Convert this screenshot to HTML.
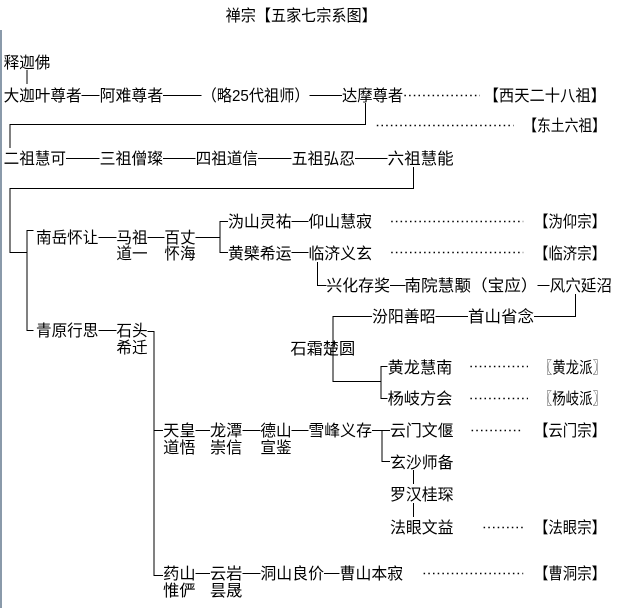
<!DOCTYPE html>
<html><head><meta charset="utf-8"><style>
html,body{margin:0;padding:0;background:#fff;width:623px;height:608px;overflow:hidden}
svg{display:block}
text{font-family:"Liberation Sans","Noto Sans CJK SC",sans-serif;font-size:16px;fill:#000}
.l{stroke:#000;stroke-width:1;fill:none;vector-effect:non-scaling-stroke;shape-rendering:crispEdges}
.d{stroke:#000;stroke-width:1.5;stroke-dasharray:1.5 3.2;fill:none;vector-effect:non-scaling-stroke}
</style></head><body>
<svg width="623" height="608" xmlns="http://www.w3.org/2000/svg">
<rect x="0" y="30" width="2" height="578" fill="#8a9aaa"/>
<g transform="scale(1.2,1)">
<text x="188" y="21" textLength="126" lengthAdjust="spacingAndGlyphs">禅宗【五家七宗系图】</text>

<text x="3" y="68" textLength="39" lengthAdjust="spacingAndGlyphs">释迦佛</text>
<path class="l" d="M22.5 70V84"/>
<text x="3" y="101" textLength="65" lengthAdjust="spacingAndGlyphs">大迦叶尊者</text>
<path class="l" d="M68 95.5H83"/>
<text x="83" y="101" textLength="53" lengthAdjust="spacingAndGlyphs">阿难尊者</text>
<path class="l" d="M136 95.5H168"/>
<text x="168" y="101" textLength="90" lengthAdjust="spacingAndGlyphs">（略25代祖师）</text>
<path class="l" d="M258 95.5H285"/>
<text x="285" y="101" textLength="51" lengthAdjust="spacingAndGlyphs">达摩尊者</text>
<path class="d" d="M337 95.5H400"/>
<text x="403" y="101" textLength="102" lengthAdjust="spacingAndGlyphs">【西天二十八祖】</text>
<path class="l" d="M304.5 103V124.5H8.5V148"/>
<path class="d" d="M314 125.5H428"/>
<text x="436" y="131" textLength="69" lengthAdjust="spacingAndGlyphs">【东土六祖】</text>

<text x="3" y="164" textLength="52" lengthAdjust="spacingAndGlyphs">二祖慧可</text>
<path class="l" d="M55 158.5H83"/>
<text x="83" y="164" textLength="53" lengthAdjust="spacingAndGlyphs">三祖僧璨</text>
<path class="l" d="M136 158.5H163"/>
<text x="163" y="164" textLength="52" lengthAdjust="spacingAndGlyphs">四祖道信</text>
<path class="l" d="M215 158.5H243"/>
<text x="243" y="164" textLength="53" lengthAdjust="spacingAndGlyphs">五祖弘忍</text>
<path class="l" d="M296 158.5H323"/>
<text x="323" y="164" textLength="55" lengthAdjust="spacingAndGlyphs">六祖慧能</text>
<path class="l" d="M344.5 167V188.5H8.5V252.5H22.5"/>
<path class="l" d="M28 230.5H22.5V330.5H28"/>

<text x="30" y="243" textLength="52" lengthAdjust="spacingAndGlyphs">南岳怀让</text>
<path class="l" d="M82 237.5H97"/>
<text x="97" y="243" textLength="26" lengthAdjust="spacingAndGlyphs">马祖</text>
<text x="97" y="259" textLength="26" lengthAdjust="spacingAndGlyphs">道一</text>
<path class="l" d="M123 237.5H137"/>
<text x="137" y="243" textLength="26" lengthAdjust="spacingAndGlyphs">百丈</text>
<text x="137" y="259" textLength="26" lengthAdjust="spacingAndGlyphs">怀海</text>
<path class="l" d="M163 237.5H183.5"/>
<path class="l" d="M190 221.5H183.5V252.5H190"/>
<text x="190" y="227" textLength="53" lengthAdjust="spacingAndGlyphs">沩山灵祐</text>
<path class="l" d="M243 221.5H257"/>
<text x="257" y="227" textLength="53" lengthAdjust="spacingAndGlyphs">仰山慧寂</text>
<path class="d" d="M326 221.5H436"/>
<text x="445" y="227" textLength="60" lengthAdjust="spacingAndGlyphs">【沩仰宗】</text>
<text x="190" y="259" textLength="53" lengthAdjust="spacingAndGlyphs">黄檗希运</text>
<path class="l" d="M243 252.5H257"/>
<text x="257" y="259" textLength="53" lengthAdjust="spacingAndGlyphs">临济义玄</text>
<path class="d" d="M326 252.5H436"/>
<text x="445" y="259" textLength="60" lengthAdjust="spacingAndGlyphs">【临济宗】</text>
<path class="l" d="M264.5 262V285.5H272"/>
<text x="272" y="291" textLength="53" lengthAdjust="spacingAndGlyphs">兴化存奖</text>
<path class="l" d="M325 285.5H338"/>
<text x="337" y="291" textLength="111" lengthAdjust="spacingAndGlyphs">南院慧颙（宝应）</text>
<path class="l" d="M448 285.5H458"/>
<text x="458" y="291" textLength="52" lengthAdjust="spacingAndGlyphs">风穴延沼</text>
<path class="l" d="M479.5 294V316.5H445"/>
<text x="390" y="322" textLength="55" lengthAdjust="spacingAndGlyphs">首山省念</text>
<path class="l" d="M363 316.5H390"/>
<text x="310" y="322" textLength="53" lengthAdjust="spacingAndGlyphs">汾阳善昭</text>
<path class="l" d="M310 316.5H277.5V381.5H317.5"/>
<text x="242" y="354" textLength="54" lengthAdjust="spacingAndGlyphs">石霜楚圆</text>
<path class="l" d="M323 366.5H317.5V398.5H323"/>
<text x="323" y="373" textLength="54" lengthAdjust="spacingAndGlyphs">黄龙慧南</text>
<path class="d" d="M392 366.5H440"/>
<text x="449" y="373" textLength="56" lengthAdjust="spacingAndGlyphs">〖黄龙派〗</text>
<text x="323" y="404" textLength="54" lengthAdjust="spacingAndGlyphs">杨岐方会</text>
<path class="d" d="M392 398.5H440"/>
<text x="449" y="404" textLength="56" lengthAdjust="spacingAndGlyphs">〖杨岐派〗</text>

<text x="30" y="336" textLength="52" lengthAdjust="spacingAndGlyphs">青原行思</text>
<path class="l" d="M82 330.5H97"/>
<text x="97" y="336" textLength="26" lengthAdjust="spacingAndGlyphs">石头</text>
<text x="97" y="353" textLength="26" lengthAdjust="spacingAndGlyphs">希迁</text>
<path class="l" d="M123 331.5H128.5V575.5H136"/>
<path class="l" d="M128.5 430.5H136"/>

<text x="136" y="436" textLength="27" lengthAdjust="spacingAndGlyphs">天皇</text>
<text x="136" y="453" textLength="27" lengthAdjust="spacingAndGlyphs">道悟</text>
<path class="l" d="M163 430.5H175"/>
<text x="175" y="436" textLength="27" lengthAdjust="spacingAndGlyphs">龙潭</text>
<text x="175" y="453" textLength="27" lengthAdjust="spacingAndGlyphs">崇信</text>
<path class="l" d="M202 430.5H217"/>
<text x="217" y="436" textLength="26" lengthAdjust="spacingAndGlyphs">德山</text>
<text x="217" y="453" textLength="26" lengthAdjust="spacingAndGlyphs">宣鉴</text>
<path class="l" d="M243 430.5H257"/>
<text x="257" y="436" textLength="53" lengthAdjust="spacingAndGlyphs">雪峰义存</text>
<path class="l" d="M310 430.5H325M318.5 430.5V461.5H325"/>
<text x="325" y="436" textLength="53" lengthAdjust="spacingAndGlyphs">云门文偃</text>
<path class="d" d="M393 430.5H436"/>
<text x="445" y="436" textLength="60" lengthAdjust="spacingAndGlyphs">【云门宗】</text>
<text x="325" y="468" textLength="53" lengthAdjust="spacingAndGlyphs">玄沙师备</text>
<path class="l" d="M344.5 470V484"/>
<text x="325" y="500" textLength="53" lengthAdjust="spacingAndGlyphs">罗汉桂琛</text>
<path class="l" d="M344.5 503V517"/>
<text x="325" y="533" textLength="53" lengthAdjust="spacingAndGlyphs">法眼文益</text>
<path class="d" d="M403 527.5H436"/>
<text x="445" y="533" textLength="60" lengthAdjust="spacingAndGlyphs">【法眼宗】</text>

<text x="136" y="579" textLength="27" lengthAdjust="spacingAndGlyphs">药山</text>
<text x="136" y="596" textLength="27" lengthAdjust="spacingAndGlyphs">惟俨</text>
<path class="l" d="M163 573.5H175"/>
<text x="175" y="579" textLength="27" lengthAdjust="spacingAndGlyphs">云岩</text>
<text x="175" y="596" textLength="27" lengthAdjust="spacingAndGlyphs">昙晟</text>
<path class="l" d="M202 573.5H217"/>
<text x="217" y="579" textLength="53" lengthAdjust="spacingAndGlyphs">洞山良价</text>
<path class="l" d="M270 573.5H283"/>
<text x="283" y="579" textLength="53" lengthAdjust="spacingAndGlyphs">曹山本寂</text>
<path class="d" d="M353 573.5H436"/>
<text x="445" y="579" textLength="60" lengthAdjust="spacingAndGlyphs">【曹洞宗】</text>
</g>
</svg>
</body></html>
